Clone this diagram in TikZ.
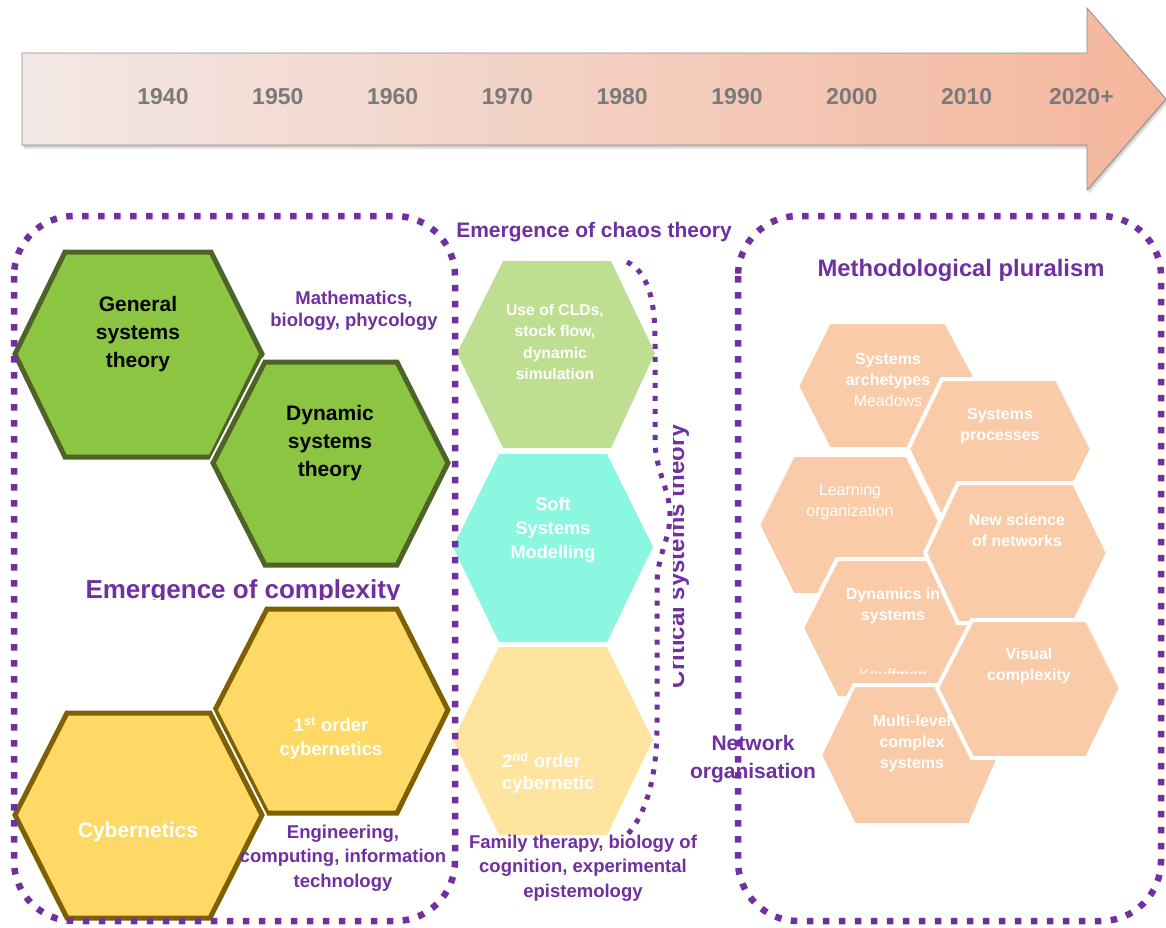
\documentclass[tikz,border=0pt]{standalone}
\usepackage{fontspec}
\setmainfont{Liberation Sans}
\definecolor{purp}{HTML}{7030A0}
\definecolor{gfill}{HTML}{8CC542}
\definecolor{gline}{HTML}{4F6228}
\definecolor{yfill}{HTML}{FFD966}
\definecolor{yline}{HTML}{7F6000}
\definecolor{cldfill}{RGB}{190,222,145}
\definecolor{ssmfill}{HTML}{8BF7E1}
\definecolor{secfill}{HTML}{FEE49E}
\definecolor{salmon}{HTML}{F9CBA8}
\definecolor{arrL}{RGB}{243,232,230}
\definecolor{arrM}{RGB}{243,218,208}
\definecolor{arrR}{RGB}{244,182,156}
\definecolor{yeargray}{RGB}{122,122,122}
\newcommand{\fs}[2]{\fontsize{#1}{#2}\selectfont}
% hexagon: style, left x, top-left x, top-right x, right x, top y, mid y, bottom y
\newcommand{\hexdraw}[8]{\path[#1] (#2,#7) -- (#3,#6) -- (#4,#6) -- (#5,#7) -- (#4,#8) -- (#3,#8) -- cycle;}
\newcommand{\arrowpath}{(22,53) -- (1087,53) -- (1087,8) -- (1166,99) -- (1087,190) -- (1087,145) -- (22,145) -- cycle}
\tikzset{
  lbl/.style={inner sep=0pt, align=center},
  purptxt/.style={lbl, text=purp, font=\fs{18.5}{24.5}\bfseries},
  whitetxt/.style={lbl, text=white, font=\fs{18.5}{24}\bfseries},
  smallwhite/.style={lbl, text=white, font=\fs{16}{21}\bfseries},
  smallwhitereg/.style={lbl, text=white, font=\fs{16}{21}},
  greenhex/.style={fill=gfill, draw=gline, line width=5pt, line join=miter},
  yellowhex/.style={fill=yfill, draw=yline, line width=5pt, line join=miter},
  whiteedge/.style={draw=white, line width=9pt, line join=miter},
  salhex/.style={fill=salmon, draw=white, line width=4pt, line join=miter},
  dotbox/.style={draw=purp, line width=6.5pt, dash pattern=on 6.5pt off 9.5pt},
  dotcurve/.style={draw=purp, line width=5pt, dash pattern=on 5pt off 8pt},
}
\begin{document}
\begin{tikzpicture}[x=1pt,y=-1pt]
\useasboundingbox (0,0) rectangle (1166,927);
\fill[white] (0,0) rectangle (1166,927);

% ---- timeline arrow ----
\begin{scope}[shift={(2,4)}]
  \fill[black, opacity=0.10] \arrowpath;
\end{scope}
\begin{scope}[shift={(1,2)}]
  \fill[black, opacity=0.12] \arrowpath;
\end{scope}
\shade[left color=arrL, middle color=arrM, right color=arrR] \arrowpath;
\draw[black!45, line width=0.8pt] \arrowpath;
\foreach \yr [count=\i from 0] in {1940,1950,1960,1970,1980,1990,2000,2010,2020+}{
  \node[lbl, text=yeargray, font=\fs{23}{27}\bfseries] (yr\i) at (163+114.8*\i,97) {\yr};
}

% ---- left group ----
\hexdraw{greenhex}{15}{65}{211}{262}{252}{354}{457}
\node[lbl, font=\fs{21}{28}\bfseries] (gst) at (138,334) {General\\systems\\theory};
\hexdraw{whiteedge}{213}{265}{397}{448}{362}{463}{565}
\hexdraw{greenhex}{213}{265}{397}{448}{362}{463}{565}
\node[lbl, font=\fs{21}{28}\bfseries] (dst) at (330,443) {Dynamic\\systems\\theory};
\node[purptxt, font=\fs{18.5}{22}\bfseries] (math) at (354,311) {Mathematics,\\biology, phycology};

\begin{scope}
  \clip (40,560) rectangle (450,599.5);
  \node[lbl, text=purp, font=\fs{26}{30}\bfseries, anchor=base] (emcx) at (243,598.5) {Emergence of complexity};
\end{scope}

\hexdraw{yellowhex}{215}{267}{397}{448}{609}{710}{813}
\node[whitetxt] (first) at (331,738) {1\textsuperscript{st} order\\cybernetics};
\hexdraw{whiteedge}{15}{67}{210}{262}{713}{815}{918}
\hexdraw{yellowhex}{15}{67}{210}{262}{713}{815}{918}
\node[lbl, text=white, font=\fs{21}{25}\bfseries] (cyb) at (138,832) {Cybernetics};
\node[purptxt] (eng) at (343,858) {Engineering,\\computing, information\\technology};

% ---- middle group ----
\node[lbl, text=purp, font=\fs{21}{25}\bfseries] (chaos) at (594,232) {Emergence of chaos theory};
\hexdraw{fill=cldfill}{457}{503}{611}{655}{261}{353}{448}
\node[lbl, text=white, font=\fs{15.7}{21.3}\bfseries] (cld) at (555,342) {Use of CLDs,\\stock flow,\\dynamic\\simulation};
\hexdraw{fill=ssmfill}{453}{499}{607}{653}{454}{547}{642}
\node[lbl, text=white, font=\fs{18.2}{24}\bfseries] (ssm) at (553,530) {Soft\\Systems\\Modelling};
\hexdraw{fill=secfill}{453}{499}{607}{653}{647}{740}{835}
\node[whitetxt, align=left, anchor=west, font=\fs{18.4}{22}\bfseries] (second) at (502,773) {2\textsuperscript{nd} order\\cybernetic};
\node[purptxt] (fam) at (583,868) {Family therapy, biology of\\cognition, experimental\\epistemology};

\begin{scope}
  \clip (673,400) rectangle (700,700);
  \node[lbl, text=purp, font=\fs{24}{28}\bfseries, rotate=90] (crit) at (678,556) {Critical systems theory};
\end{scope}

% ---- right group ----
\node[lbl, text=purp, font=\fs{23.8}{28}\bfseries] (meth) at (961,270) {Methodological pluralism};

\hexdraw{salhex}{797}{829}{946}{980}{322}{386}{449}
\node[smallwhite] (arch) at (888,380) {Systems\\archetypes\\\mdseries Meadows};
\hexdraw{salhex}{908}{942}{1057}{1092}{379}{449}{519}
\node[smallwhite] (proc) at (1000,426) {Systems\\processes};
\hexdraw{salhex}{758}{793}{907}{942}{455}{525}{595}
\node[smallwhitereg] (learn) at (850,502) {Learning\\organization};
\hexdraw{salhex}{802}{837}{952}{987}{559}{628}{698}
\node[smallwhite] (dyn) at (893,606) {Dynamics in\\systems};
\begin{scope}
  \clip (820,660) rectangle (980,673);
  \node[smallwhitereg, anchor=base] (kauff) at (893,680) {Kauffman};
\end{scope}
\hexdraw{salhex}{925}{958}{1074}{1108}{483}{553}{623}
\node[smallwhite] (netw) at (1017,530) {New science\\of networks};
\hexdraw{salhex}{820}{854}{970}{1000}{685}{755}{825}
\node[smallwhite] (multi) at (912,743) {Multi-level\\complex\\systems};
\hexdraw{salhex}{937}{972}{1087}{1121}{620}{688}{758}
\node[smallwhite] (vis) at (1029,666) {Visual\\complexity};

\node[lbl, text=purp, font=\fs{21}{28}\bfseries] (netorg) at (753,759) {Network\\organisation};

% ---- dotted outlines ----
\draw[dotbox, rounded corners=60pt] (14,216) rectangle (455,921);
\draw[dotbox, rounded corners=60pt] (738,216) rectangle (1161,921);
\draw[dotcurve] (627,262) .. controls (648,272) and (655,300) .. (655,340)
  -- (655,440) .. controls (655,470) and (670,490) .. (670,515)
  .. controls (670,540) and (657,555) .. (657,585)
  -- (657,725) .. controls (657,780) and (645,815) .. (627,835);
\end{tikzpicture}
\end{document}
